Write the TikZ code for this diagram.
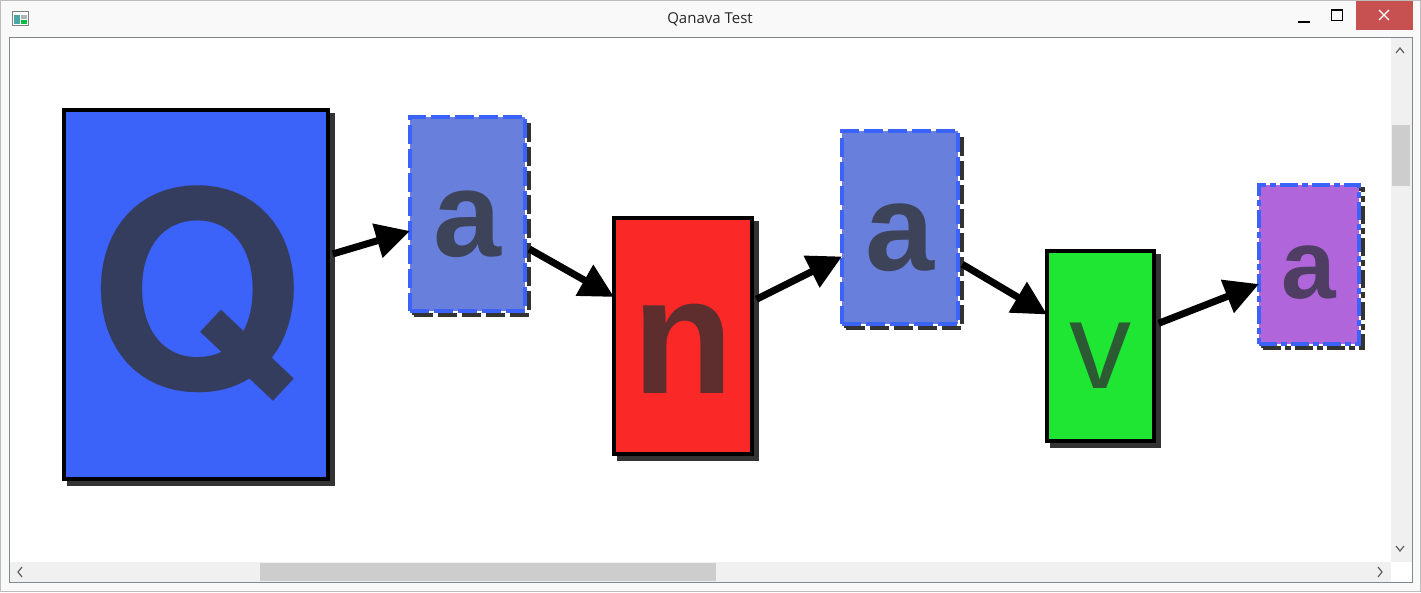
\documentclass[tikz,border=0pt]{standalone}
\usepackage{fontspec}
\setmainfont{Liberation Sans}
\newfontfamily\titlefont{Open Sans}
\newfontfamily\qfont{TeX Gyre Heros}
\usetikzlibrary{arrows.meta,shadows}
\definecolor{qblue}{HTML}{3B62F9}
\definecolor{qink}{HTML}{343D5E}
\definecolor{afill}{HTML}{6880DC}
\definecolor{aink}{HTML}{3D4359}
\definecolor{nfill}{HTML}{FB2828}
\definecolor{nink}{HTML}{5E2E2E}
\definecolor{vfill}{HTML}{1FE633}
\definecolor{vink}{HTML}{2C5A33}
\definecolor{lilacfill}{HTML}{B066DA}
\definecolor{lilacink}{HTML}{503D63}
\definecolor{shadowgray}{HTML}{333333}
\definecolor{framegray}{HTML}{828790}
\definecolor{barbg}{HTML}{F0F0F0}
\definecolor{thumbgray}{HTML}{CDCDCD}
\definecolor{chevgray}{HTML}{606060}
\definecolor{closered}{HTML}{C75050}
\definecolor{chromebg}{HTML}{F9F9F9}
\definecolor{chromeline}{HTML}{BCBCBC}
\newcommand\boxglyph[1]{\rule[-0.212em]{0pt}{1.117em}#1}
\tikzset{
  box/.style 2 args={line width=4pt, inner sep=0pt, outer sep=0pt,
    minimum width=#1, minimum height=#2},
  solidbox/.style={draw=black, general shadow={fill=shadowgray, draw=shadowgray,
    line width=4pt, solid, shadow xshift=5pt, shadow yshift=-5pt}},
  dashbox/.style={draw=qblue, dash pattern=on 19pt off 5pt,
    general shadow={draw=shadowgray, line width=4pt, dash pattern=on 19pt off 5pt,
    shadow xshift=4pt, shadow yshift=-4pt}},
  dotbox/.style={draw=qblue, dash pattern=on 18pt off 4pt on 6pt off 4pt,
    general shadow={draw=shadowgray, line width=4pt,
    dash pattern=on 18pt off 4pt on 6pt off 4pt, shadow xshift=4pt, shadow yshift=-4pt}},
  big/.style={font=\fontsize{#1pt}{#1pt}\selectfont\bfseries},
  flow/.style={line width=7pt, -{Triangle[length=34pt,width=34pt]}, shorten <=5pt},
  chev/.style={draw=chevgray, line width=1.2pt},
}
\begin{document}
\begin{tikzpicture}[x=1pt,y=-1pt]
\useasboundingbox (0,0) rectangle (1421,592);
% window
\fill[chromebg] (0,0) rectangle (1421,592);
\draw[chromeline] (0.5,0.5) rectangle (1420.5,591.5);
\fill[white] (10,38) rectangle (1412,582);
\draw[framegray] (9.5,37.5) rectangle (1412.5,582.5);
\fill[barbg] (1391,38) rectangle (1412,562);
\fill[thumbgray] (1392,125) rectangle (1410,186);
\fill[barbg] (10,562) rectangle (1391,582);
\fill[thumbgray] (260,563) rectangle (716,581);
\draw[chev] (1396,53) -- (1400,48) -- (1404,53);
\draw[chev] (1396,546) -- (1400,551) -- (1404,546);
\draw[chev] (22,567) -- (18,572) -- (22,577);
\draw[chev] (1378,567) -- (1382,572) -- (1378,577);
% title bar
\fill[white] (12,11) rectangle (29,26);
\draw[gray] (12.5,11.5) rectangle (28.5,25.5);
\fill[teal!70] (14,15) rectangle (20,24);
\fill[gray!60] (21,15) rectangle (27,19);
\fill[green!50!teal] (21,20) rectangle (27,24);
\node[font=\titlefont\fontsize{15pt}{15pt}\selectfont, text=black!85] (title) at (710,19) {Qanava Test};
\draw[line width=2pt] (1298,22) -- (1310,22);
\draw[line width=1pt] (1331.5,9.5) rectangle (1342.5,20.5);
\draw[line width=2pt] (1331,10) -- (1343,10);
\fill[closered] (1356,1) rectangle (1413,30);
\draw[white, line width=1.3pt] (1379,10) -- (1389,20) (1389,10) -- (1379,20);
% nodes
\node[box={264pt}{369pt}, solidbox, fill=qblue, text=qink, font=\qfont\fontsize{275pt}{275pt}\selectfont\bfseries] (q) at (196,294.5) {\boxglyph{Q}};
\node[box={115pt}{194pt}, dashbox, fill=afill, text=aink, big=122] (a1) at (467.5,214) {\boxglyph{a}};
\node[box={138pt}{236pt}, solidbox, fill=nfill, text=nink, big=166] (n) at (683,336) {\boxglyph{n}};
\node[box={116pt}{193pt}, dashbox, fill=afill, text=aink, big=124] (a2) at (900,227.5) {\boxglyph{a}};
\node[box={107pt}{190pt}, solidbox, fill=vfill, text=vink, font=\fontsize{124pt}{124pt}\selectfont] (v) at (1100.5,346) {\boxglyph{v}};
\node[box={100pt}{159pt}, dotbox, fill=lilacfill, text=lilacink, big=98] (a3) at (1309,264.5) {\boxglyph{a}};
% edges
\draw[flow] (q) -- (a1);
\draw[flow] (a1) -- (n);
\draw[flow] (n) -- (a2);
\draw[flow] (a2) -- (v);
\draw[flow] (v) -- (a3);
\end{tikzpicture}
\end{document}
